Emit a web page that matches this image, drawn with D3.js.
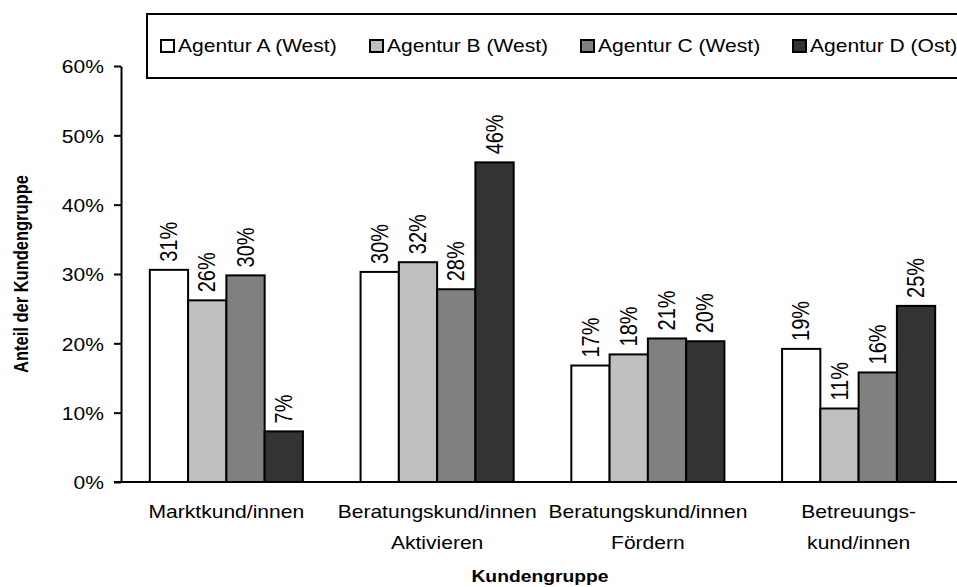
<!DOCTYPE html>
<html>
<head>
<meta charset="utf-8">
<script src="https://cdn.jsdelivr.net/npm/d3@7"></script>
<style>
  html, body { margin: 0; padding: 0; background: #fff; }
  svg text { font-family: "Liberation Sans", Arial, sans-serif; fill: #000; }
</style>
</head>
<body>
<svg id="chart" width="957" height="587"></svg>
<script>
const categories = [
  ["Marktkund/innen"],
  ["Beratungskund/innen", "Aktivieren"],
  ["Beratungskund/innen", "Fördern"],
  ["Betreuungs-", "kund/innen"]
];
const seriesNames = ["Agentur A (West)", "Agentur B (West)", "Agentur C (West)", "Agentur D (Ost)"];
const seriesA = [30.6, 30.3, 16.8, 19.2];
const seriesB = [26.2, 31.7, 18.4, 10.6];
const seriesC = [29.8, 27.8, 20.7, 15.8];
const seriesD = [7.3, 46.1, 20.3, 25.4];
const yTicks = [0, 10, 20, 30, 40, 50, 60];
const colors = ["#ffffff", "#c0c0c0", "#808080", "#333333"];

(function () {
const allSeries = [seriesA, seriesB, seriesC, seriesD];
const svg = d3.select("#chart");
const SX = 1.17;      // horizontal stretch of all text (as in reference)
const FS = 18;        // regular text size
const FL = 20;        // data label size
const FT = 16.5;      // bold title size

const pL = 121, pR = 964, pT = 66, pB = 482;

const x0 = d3.scaleBand().domain(d3.range(categories.length)).range([pL, pR])
  .paddingInner(0.2735).paddingOuter(0.2735 / 2);
const x1 = d3.scaleBand().domain(d3.range(seriesNames.length)).range([0, x0.bandwidth()]);
const y = d3.scaleLinear().domain([0, 60]).range([pB, pT]);

// Bars
const groups = svg.append("g").selectAll("g").data(categories).join("g")
  .attr("transform", (d, i) => `translate(${x0(i)},0)`);

groups.each(function(cat, ci) {
  const g = d3.select(this);
  allSeries.forEach((s, si) => {
    const v = s[ci];
    g.append("rect")
      .attr("x", x1(si))
      .attr("y", y(v))
      .attr("width", x1.bandwidth())
      .attr("height", y(0) - y(v))
      .attr("fill", colors[si])
      .attr("stroke", "#000")
      .attr("stroke-width", 2);
    const cx = x1(si) + x1.bandwidth() / 2;
    g.append("text")
      .attr("transform", `translate(${cx},${y(v) - 8}) scale(${SX},1) rotate(-90)`)
      .attr("dy", "0.35em")
      .attr("text-anchor", "start")
      .attr("font-size", FL)
      .text(Math.round(v) + "%");
  });
});

// Y axis
const yAxis = d3.axisLeft(y).tickValues(yTicks).tickFormat(d => d + "%").tickSize(7).tickSizeOuter(0);
const yg = svg.append("g").attr("transform", `translate(${pL},0)`).call(yAxis);
yg.select(".domain").attr("stroke", "#000").attr("stroke-width", 2);
yg.selectAll(".tick line").attr("stroke", "#000").attr("stroke-width", 2);
yg.selectAll(".tick text")
  .attr("font-size", FS)
  .attr("font-family", "Liberation Sans, Arial, sans-serif")
  .attr("x", -17 / SX)
  .attr("dy", "0.38em")
  .attr("transform", `scale(${SX},1)`);

// X axis line
svg.append("line").attr("x1", pL - 7).attr("x2", 957).attr("y1", y(0)).attr("y2", y(0))
  .attr("stroke", "#000").attr("stroke-width", 2);

// X category labels
categories.forEach((lines, i) => {
  const cx = x0(i) + x0.bandwidth() / 2;
  const t = svg.append("text")
    .attr("transform", `translate(${cx},518) scale(${SX},1)`)
    .attr("text-anchor", "middle").attr("font-size", FS);
  lines.forEach((ln, k) => {
    t.append("tspan").attr("x", 0).attr("y", k * 31).text(ln);
  });
});

// Axis titles
svg.append("text")
  .attr("transform", `translate(540,582) scale(${SX},1)`)
  .attr("text-anchor", "middle")
  .attr("font-size", FT).attr("font-weight", "bold").text("Kundengruppe");
svg.append("text")
  .attr("transform", `translate(28,${(pT + pB) / 2}) scale(${SX},1) rotate(-90)`)
  .attr("text-anchor", "middle").attr("font-size", FT).attr("font-weight", "bold")
  .text("Anteil der Kundengruppe");

// Legend
const legend = svg.append("g");
legend.append("rect").attr("x", 147).attr("y", 14).attr("width", 830).attr("height", 64)
  .attr("fill", "#fff").attr("stroke", "#000").attr("stroke-width", 2);
const legendX = [161, 370, 581, 793];
seriesNames.forEach((name, i) => {
  legend.append("rect").attr("x", legendX[i]).attr("y", 40).attr("width", 13).attr("height", 12)
    .attr("fill", colors[i]).attr("stroke", "#000").attr("stroke-width", 2);
  legend.append("text")
    .attr("transform", `translate(${legendX[i] + 17},46) scale(${SX},1)`)
    .attr("dy", "0.36em")
    .attr("font-size", FS).text(name);
});
})();
</script>
</body>
</html>
